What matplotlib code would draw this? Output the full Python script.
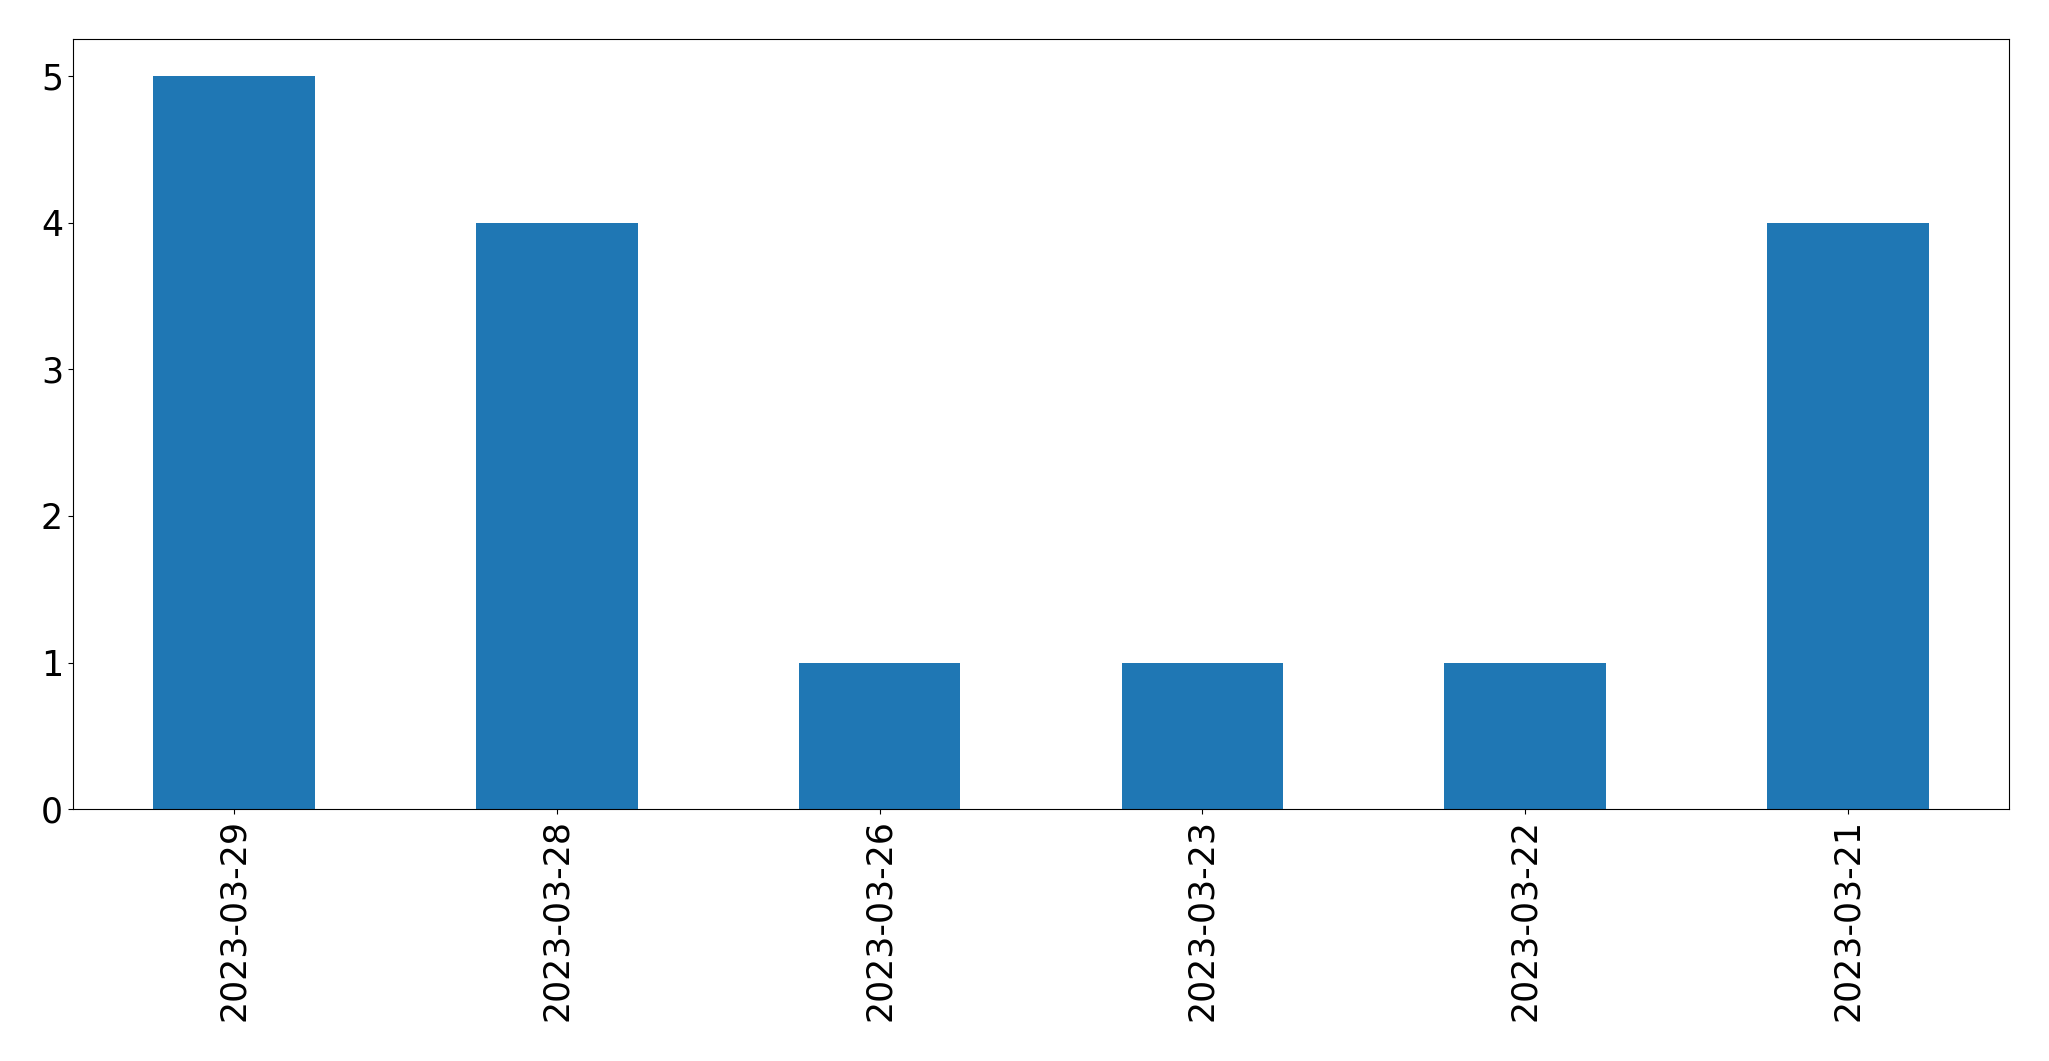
import matplotlib
matplotlib.use("Agg")
import matplotlib.pyplot as plt
import pandas as pd

dates = ["2023-03-29", "2023-03-28", "2023-03-26", "2023-03-23", "2023-03-22", "2023-03-21"]
counts = [5, 4, 1, 1, 1, 4]

s = pd.Series(counts, index=dates)

fig = plt.figure(figsize=(20.49, 10.61), dpi=100)
ax = fig.add_axes([0.0355, 0.2372, 0.9451, 0.7258])
s.plot.bar(ax=ax, color="#1f77b4")
ax.tick_params(labelsize=25)

fig.savefig("out.png", dpi=100)
